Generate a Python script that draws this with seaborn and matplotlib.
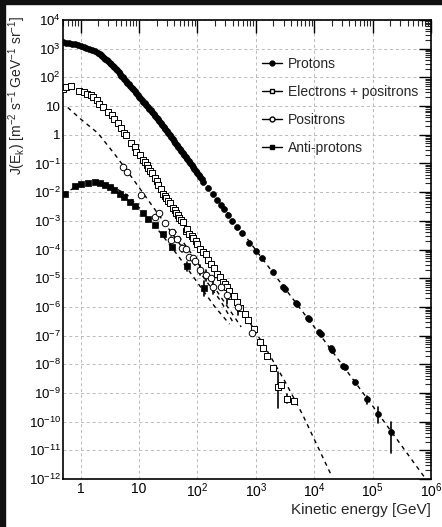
import numpy as np
import pandas as pd
import matplotlib
matplotlib.use("Agg")
import matplotlib.pyplot as plt
import seaborn as sns
from matplotlib.lines import Line2D
from matplotlib.patches import Rectangle
from matplotlib.ticker import LogLocator, FixedLocator, FuncFormatter, NullFormatter

# ---------------- data (log10 of kinetic energy [GeV] and of flux J) ----------------
proton_logE = [-0.30, -0.25, -0.20, -0.15, -0.10, -0.05, 0.00, 0.05, 0.10, 0.15, 0.20, 0.25, 0.30,
               0.325, 0.35, 0.375, 0.40, 0.425, 0.45, 0.475, 0.50, 0.525, 0.55, 0.575, 0.60,
               0.625, 0.65, 0.675, 0.70, 0.725, 0.75, 0.775, 0.80, 0.825, 0.85, 0.875, 0.90,
               0.925, 0.95, 0.975, 1.00, 1.025, 1.05, 1.075, 1.10, 1.125, 1.15, 1.175, 1.20,
               1.225, 1.25, 1.275, 1.30, 1.325, 1.35, 1.375, 1.40, 1.425, 1.45, 1.475, 1.50,
               1.525, 1.55, 1.575, 1.60, 1.625, 1.65, 1.675, 1.70, 1.725, 1.75, 1.775, 1.80,
               1.825, 1.85, 1.875, 1.90, 1.925, 1.95, 1.975, 2.00, 2.025, 2.05, 2.075,
               2.10, 2.18, 2.26, 2.33, 2.40, 2.45, 2.53, 2.60, 2.68, 2.76, 2.89, 3.00,
               3.10, 3.29, 3.47, 3.50, 3.68, 3.70, 3.89, 3.91, 4.09, 4.11, 4.29, 4.31,
               4.50, 4.52, 4.70, 4.90, 5.10, 5.31]
proton_logJ = [3.22, 3.21, 3.19, 3.17, 3.15, 3.13, 3.10, 3.07, 3.04, 3.00, 2.96, 2.91, 2.84,
               2.81, 2.77, 2.73, 2.69, 2.65, 2.60, 2.56, 2.51, 2.46, 2.40, 2.35, 2.29,
               2.24, 2.18, 2.12, 2.06, 2.00, 1.94, 1.88, 1.82, 1.76, 1.70, 1.64, 1.58,
               1.52, 1.45, 1.39, 1.33, 1.27, 1.21, 1.15, 1.09, 1.03, 0.97, 0.91, 0.85,
               0.79, 0.73, 0.67, 0.60, 0.54, 0.47, 0.41, 0.34, 0.27, 0.20, 0.13, 0.06,
               -0.01, -0.08, -0.15, -0.22, -0.29, -0.36, -0.43, -0.50, -0.57, -0.64, -0.71, -0.78,
               -0.85, -0.92, -0.99, -1.06, -1.13, -1.20, -1.27, -1.34, -1.41, -1.48, -1.55,
               -1.63, -1.85, -2.07, -2.26, -2.45, -2.59, -2.81, -3.00, -3.22, -3.44, -3.79, -4.05,
               -4.30, -4.78, -5.30, -5.38, -5.85, -5.90, -6.38, -6.44, -6.88, -6.93, -7.45, -7.50,
               -8.05, -8.10, -8.63, -9.21, -9.73, -10.37]
proton_err_logE = [4.90, 5.10, 5.31]
proton_err_lo = [-9.38, -10.05, -11.10]
proton_err_hi = [-9.10, -9.49, -10.02]

ee_logE = [-0.30, -0.25, -0.16, -0.02, 0.05, 0.11, 0.17, 0.21, 0.28, 0.31, 0.38, 0.47,
           0.53, 0.58, 0.64, 0.70, 0.75, 0.78, 0.87, 0.93, 0.95, 1.01, 1.07, 1.10, 1.13,
           1.16, 1.19, 1.22, 1.27, 1.30, 1.33, 1.37, 1.41, 1.44, 1.47, 1.50, 1.53, 1.58,
           1.61, 1.64, 1.67, 1.69, 1.72, 1.75, 1.80, 1.83, 1.86, 1.90, 1.93, 1.97, 2.00,
           2.05, 2.10, 2.14, 2.19, 2.24, 2.28, 2.33, 2.38, 2.43, 2.47, 2.50, 2.54,
           2.58, 2.62, 2.67, 2.73, 2.81, 2.87, 2.97, 3.07, 3.13, 3.20, 3.30, 3.38,
           3.44, 3.54, 3.65]
ee_logJ = [1.59, 1.66, 1.71, 1.53, 1.48, 1.41, 1.37, 1.33, 1.21, 1.08, 0.98, 0.80,
           0.69, 0.55, 0.40, 0.22, 0.05, 0.00, -0.30, -0.42, -0.59, -0.70, -0.88, -0.95, -1.05,
           -1.15, -1.25, -1.32, -1.52, -1.62, -1.75, -1.90, -2.05, -2.15, -2.22, -2.30, -2.39, -2.55,
           -2.62, -2.74, -2.80, -2.90, -2.98, -3.05, -3.35, -3.30, -3.45, -3.52, -3.61, -3.72, -3.82,
           -3.98, -4.10, -4.17, -4.35, -4.52, -4.65, -4.86, -4.95, -5.12, -5.22, -5.30, -5.45,
           -5.61, -5.62, -5.84, -6.03, -6.26, -6.45, -6.78, -7.21, -7.44, -7.71, -8.12, -8.80,
           -8.72, -9.21, -9.28]
ee_err_logE = [3.38, 3.54]
ee_err_lo = [-9.54, -9.35]
ee_err_hi = [-8.26, -9.05]

pos_logE = [0.73, 0.80, 1.04, 1.27, 1.34, 1.44, 1.54, 1.56, 1.65, 1.73, 1.80, 1.86,
            1.92, 1.96, 2.04, 2.14, 2.24, 2.26, 2.40, 2.50, 2.70, 2.94]
pos_logJ = [-1.11, -1.30, -2.10, -2.86, -2.74, -3.09, -3.67, -3.38, -3.64, -3.96, -3.98, -4.25,
            -4.31, -4.40, -4.71, -4.89, -5.00, -5.30, -5.32, -5.59, -6.00, -6.92]
pos_err_logE = [1.54, 1.73, 2.04, 2.14, 2.26, 2.50, 2.70]
pos_err_lo = [-3.80, -4.10, -4.90, -5.10, -5.55, -5.90, -6.30]
pos_err_hi = [-3.55, -3.85, -4.55, -4.70, -5.10, -5.35, -5.75]

pbar_logE = [-0.26, -0.10, 0.00, 0.13, 0.24, 0.33, 0.41, 0.50, 0.58, 0.67, 0.75, 0.84,
             0.93, 1.07, 1.15, 1.27, 1.41, 1.56, 1.82, 2.11]
pbar_logJ = [-2.05, -1.78, -1.72, -1.68, -1.65, -1.68, -1.74, -1.82, -1.92, -2.05, -2.18, -2.33,
             -2.50, -2.74, -2.93, -3.15, -3.45, -3.90, -4.58, -5.33]
pbar_err_logE = [1.82, 2.11]
pbar_err_lo = [-4.75, -5.61]
pbar_err_hi = [-4.45, -5.09]

# model curves (dashed)
pmod_logE = [2.0, 3.0, 4.0, 5.0, 6.0]
pmod_logJ = [-1.31, -4.02, -6.70, -9.45, -12.25]
eemod_logE = [1.0, 1.5, 2.0, 2.5, 2.9, 3.2, 3.5, 3.8, 4.3]
eemod_logJ = [-0.75, -2.25, -3.75, -5.30, -6.55, -7.55, -8.60, -9.75, -11.90]
posmod_logE = [-0.22, 0.0, 0.3, 0.6, 0.9, 1.2, 1.5, 1.8, 2.1, 2.4, 2.6]
posmod_logJ = [0.95, 0.55, 0.05, -0.72, -1.55, -2.40, -3.25, -4.10, -4.95, -5.80, -6.50]
pbarmod_logE = [-0.30, -0.10, 0.10, 0.30, 0.50, 0.80, 1.10, 1.40, 1.70, 2.00, 2.30, 2.55]
pbarmod_logJ = [-2.05, -1.85, -1.72, -1.67, -1.75, -2.10, -2.75, -3.50, -4.30, -5.15, -6.00, -6.60]
e3mod_logE = [1.6, 1.9, 2.2, 2.5, 2.75]
e3mod_logJ = [-3.30, -4.15, -5.05, -5.95, -6.70]

x_ticks = [1, 10, 100, 1e3, 1e4, 1e5, 1e6]
y_ticks_exp = list(range(-12, 5))

# ---------------- style ----------------
sns.set_style("white")
plt.rcParams['font.family'] = ['Liberation Sans', 'DejaVu Sans']
plt.rcParams['mathtext.default'] = 'regular'

fig = plt.figure(figsize=(4.42, 5.27), dpi=100, facecolor='white')
ax = fig.add_axes([63/442, 1-479/527, (431-63)/442, (479-20)/527])
ax.set_facecolor('white')

def df(le, lj):
    return pd.DataFrame({'E': np.power(10.0, le), 'J': np.power(10.0, lj)})

ax.set_xscale('log')
ax.set_yscale('log')

dash = (3, 3)
for le, lj in [(pmod_logE, pmod_logJ), (eemod_logE, eemod_logJ), (posmod_logE, posmod_logJ),
               (pbarmod_logE, pbarmod_logJ), (e3mod_logE, e3mod_logJ)]:
    d = df(le, lj)
    sns.lineplot(data=d, x='E', y='J', ax=ax, color='black', lw=1.0, sort=False,
                 linestyle=(0, dash), zorder=2)

def errbars(le, lo, hi):
    E = np.power(10.0, le)
    for e, a, b in zip(E, lo, hi):
        ax.plot([e, e], [10**a, 10**b], color='black', lw=1.2, zorder=3)

errbars(proton_err_logE, proton_err_lo, proton_err_hi)
errbars(ee_err_logE, ee_err_lo, ee_err_hi)
errbars(pos_err_logE, pos_err_lo, pos_err_hi)
errbars(pbar_err_logE, pbar_err_lo, pbar_err_hi)

sns.scatterplot(data=df(proton_logE, proton_logJ), x='E', y='J', ax=ax, marker='o', s=18,
                color='black', edgecolor='black', linewidth=0.5, zorder=4)
sns.scatterplot(data=df(ee_logE, ee_logJ), x='E', y='J', ax=ax, marker='s', s=24,
                facecolor='white', edgecolor='black', linewidth=0.7, zorder=4)
sns.scatterplot(data=df(pos_logE, pos_logJ), x='E', y='J', ax=ax, marker='o', s=22,
                facecolor='white', edgecolor='black', linewidth=0.7, zorder=5)
sns.scatterplot(data=df(pbar_logE, pbar_logJ), x='E', y='J', ax=ax, marker='s', s=16,
                color='black', edgecolor='black', linewidth=0.5, zorder=5)

ax.set_xlim(0.5, 1e6)
ax.set_ylim(1e-12, 1e4)

def fmt(v, pos):
    n = int(round(np.log10(v)))
    if n == 0:
        return '1'
    if n == 1:
        return '10'
    return r'$10^{%d}$' % n

ax.xaxis.set_major_locator(FixedLocator(x_ticks))
ax.yaxis.set_major_locator(FixedLocator([10.0**k for k in y_ticks_exp]))
ax.xaxis.set_major_formatter(FuncFormatter(fmt))
ax.yaxis.set_major_formatter(FuncFormatter(fmt))
ax.xaxis.set_minor_locator(LogLocator(base=10, subs=np.arange(2, 10), numticks=100))
ax.yaxis.set_minor_locator(LogLocator(base=10, subs=np.arange(2, 10), numticks=100))
ax.xaxis.set_minor_formatter(NullFormatter())
ax.yaxis.set_minor_formatter(NullFormatter())
ax.tick_params(which='major', direction='in', length=9, width=1.0, top=True, right=True,
               colors='black')
ax.tick_params(which='minor', direction='in', length=4.5, width=0.8, top=True, right=True)
ax.tick_params(axis='y', which='major', pad=1.5, labelsize=9.5)
ax.tick_params(axis='x', which='major', pad=2, labelsize=10)

ax.grid(True, which='major', color='#b8b8b8', linestyle=(0, (3, 3)), linewidth=0.7)
ax.set_axisbelow(True)
for sp in ax.spines.values():
    sp.set_color('black')
    sp.set_linewidth(1.2)

ax.set_xlabel('Kinetic energy [GeV]', fontsize=11, loc='right', labelpad=2)
ax.set_ylabel(r'J(E$_k$) [m$^{-2}$ s$^{-1}$ GeV$^{-1}$ sr$^{-1}$]', fontsize=10)
ax.yaxis.set_label_coords((28-63)/368, (479-95)/459)

handles = [
    Line2D([], [], color='black', lw=1.0, marker='o', markersize=3.5, markerfacecolor='black'),
    Line2D([], [], color='black', lw=1.0, marker='s', markersize=3.5, markerfacecolor='white'),
    Line2D([], [], color='black', lw=1.0, marker='o', markersize=3.5, markerfacecolor='white'),
    Line2D([], [], color='black', lw=1.0, marker='s', markersize=3.5, markerfacecolor='black'),
]
labels = ['Protons', 'Electrons + positrons', 'Positrons', 'Anti-protons']
ax.legend(handles, labels, loc='upper left', bbox_to_anchor=((262-63)/368, (479-57)/459),
          frameon=False, fontsize=10, handlelength=1.45, handletextpad=0.4,
          labelspacing=1.0, borderpad=0, borderaxespad=0)

fig.add_artist(Rectangle((0, 1-4/527), 1, 4/527, transform=fig.transFigure, color='#111111', zorder=10))
fig.add_artist(Rectangle((0, 0), 5/442, 1, transform=fig.transFigure, color='#111111', zorder=10))

fig.savefig('out.png', dpi=100, facecolor='white')
